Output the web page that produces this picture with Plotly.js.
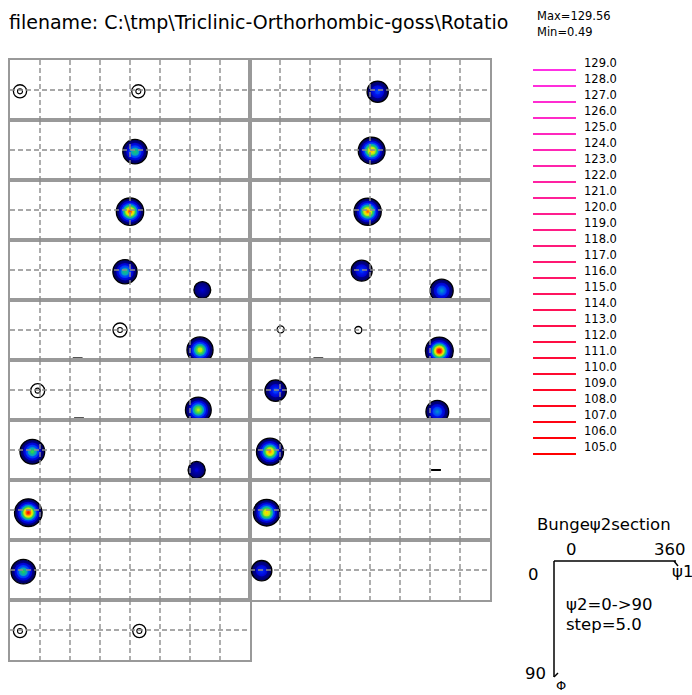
<!DOCTYPE html>
<html>
<head>
<meta charset="utf-8">
<script src="https://cdn.plot.ly/plotly-3.0.1.min.js"></script>
<style>
  html, body { margin: 0; padding: 0; background: #ffffff; }
  #odf { width: 692px; height: 695px; }
</style>
</head>
<body>
<div id="odf"></div>
<script>
// ODF in Bunge φ2 sections (φ2 = 0..90, step 5), φ1 across 0..360, Φ down 0..90

const sections = [0, 5, 10, 15, 20, 25, 30, 35, 40, 45, 50, 55, 60, 65, 70, 75, 80, 85, 90];

// texture peaks: section φ2, position (φ1, Φ) and peak intensity f(g)
const peakPhi2 = [0, 0, 5, 10, 15, 15, 20, 20, 20, 25, 25, 25, 30, 30, 35, 40, 45, 45,
                  50, 55, 60, 65, 65, 70, 70, 70, 70, 75, 75, 80, 80, 85, 90];
const peakPhi1 = [15, 192.5, 187.5, 180, 172.5, 288.5, 165, 285, 101.5, 41.5, 282.5, 103.5, 33.5, 280, 27.5, 20, 15, 194,
                  191.5, 182.5, 176.5, 167.5, 287.5, 46, 162.5, 102.5, 284, 38.5, 281, 30, 279, 25, 17.5];
const peakPHI  = [47, 47, 47.5, 47.5, 47.5, 75, 45, 75, 87.5, 46, 75, 87.5, 47.5, 75, 49, 47.5, 46.5, 46.5,
                  47.5, 46, 47.5, 46, 76, 44, 45, 87.5, 76.5, 46, 77.5, 47.5, 75, 49, 46];
const peakF    = [8, 8, 72, 118, 70, 26, 10, 95, 1.5, 10, 90, 1.5, 76, 27, 124, 74, 8, 8,
                  45, 108, 114, 44, 58, 4, 4, 1.5, 129.56, 46, 56, 112, 2, 104, 40];

const fMax = 129.56;
const fMin = 0.49;

// contour levels listed in the key
const contourLevels = [129, 128, 127, 126, 125, 124, 123, 122, 121, 120, 119, 118, 117,
                       116, 115, 114, 113, 112, 111, 110, 109, 108, 107, 106, 105];

// ---------------------------------------------------------------------------
const W = 692, H = 695;
const px = x => x / W;
const py = y => 1 - y / H;

const BORDER = '#999999';
const GRID = '#8c8c8c';
const FONT = 'DejaVu Sans, Liberation Sans, Arial, sans-serif';
const panelX0 = [10, 250], panelW = 240;
const panelY0 = 60, panelH = 60;
const gridStep = 45;

// jet-like shading bands, as fractions of the maximum
const bands = [
  { t: 0.08, c: [0, 0, 96] },
  { t: 0.20, c: [0, 0, 210] },
  { t: 0.32, c: [0, 48, 255] },
  { t: 0.45, c: [0, 160, 200] },
  { t: 0.56, c: [32, 200, 96] },
  { t: 0.68, c: [176, 238, 16] },
  { t: 0.78, c: [255, 224, 0] },
  { t: 0.86, c: [255, 128, 0] },
  { t: 0.94, c: [255, 16, 0] }
];
const sigmaPx = 6.2;

function rgb(c) { return 'rgb(' + c.map(Math.round).join(',') + ')'; }
function mix(a, b, u) { return rgb(a.map((v, i) => v + (b[i] - v) * u)); }

const axisBase = {
  showgrid: false, zeroline: false, showticklabels: false, ticks: '',
  showline: true, mirror: true, linecolor: BORDER, linewidth: 2,
  layer: 'above traces', fixedrange: true
};

const layout = {
  width: W, height: H,
  margin: { l: 0, r: 0, t: 0, b: 0, pad: 0 },
  paper_bgcolor: '#ffffff', plot_bgcolor: 'rgba(0,0,0,0)',
  showlegend: false,
  shapes: [], annotations: []
};
const traces = [];

sections.forEach((phi2, s) => {
  const col = s < 10 ? 0 : 1;
  const row = s < 10 ? s : s - 10;
  const n = s + 1;
  const sfx = n > 1 ? String(n) : '';
  const xr = 'x' + sfx, yr = 'y' + sfx;

  layout['xaxis' + sfx] = Object.assign({}, axisBase, {
    domain: [px(panelX0[col]), px(panelX0[col] + panelW)], range: [0, 360], anchor: yr
  });
  layout['yaxis' + sfx] = Object.assign({}, axisBase, {
    domain: [py(panelY0 + (row + 1) * panelH), py(panelY0 + row * panelH)], range: [90, 0], anchor: xr
  });

  // dashed grid, drawn over the intensity marks
  for (let a = gridStep; a < 360; a += gridStep) {
    layout.shapes.push({ type: 'line', xref: xr, yref: yr, x0: a, x1: a, y0: 0, y1: 90, layer: 'above',
      line: { color: GRID, width: 1.4, dash: '5px,3px' } });
  }
  for (let b = gridStep; b < 90; b += gridStep) {
    layout.shapes.push({ type: 'line', xref: xr, yref: yr, x0: 0, x1: 360, y0: b, y1: b, layer: 'above',
      line: { color: GRID, width: 1.4, dash: '5px,3px' } });
  }

  const m = { x: [], y: [], size: [], color: [], gtype: [], gcolor: [], lw: [], lc: [], sym: [] };
  const push = (x, y, size, color, gtype, gcolor, lw, sym) => {
    m.x.push(x); m.y.push(y); m.size.push(size); m.color.push(color);
    m.gtype.push(gtype); m.gcolor.push(gcolor); m.lw.push(lw); m.lc.push('#000000'); m.sym.push(sym);
  };

  peakF.forEach((f, i) => {
    if (peakPhi2[i] !== phi2) return;
    const x = peakPhi1[i], y = peakPHI[i];
    const q = f / fMax;
    if (f < 3) {
      push(x, y, 7, '#000000', 'none', '#000000', 2, 'line-ew');
    } else if (f < 6) {
      push(x, y, 7, '#000000', 'none', '#000000', 1.3, 'circle-open');
    } else if (q < bands[0].t) {
      push(x, y, 10 + 0.4 * f, '#000000', 'none', '#000000', 1.3, 'circle-open');
      push(x, y, 5, '#000000', 'none', '#000000', 1.1, 'circle-open');
    } else {
      bands.forEach((b, k) => {
        if (q <= b.t) return;
        const size = 2 * sigmaPx * Math.sqrt(2 * Math.log(q / b.t));
        const nxt = bands[k + 1];
        const centre = nxt ? mix(b.c, nxt.c, Math.min(1, (q - b.t) / (nxt.t - b.t))) : rgb(b.c);
        push(x, y, size, rgb(b.c), 'radial', centre, k === 0 ? 1.3 : 0, 'circle');
      });
    }
  });

  traces.push({
    type: 'scatter', mode: 'markers', xaxis: xr, yaxis: yr,
    x: m.x, y: m.y, hoverinfo: 'skip', cliponaxis: true,
    marker: {
      size: m.size, color: m.color, symbol: m.sym, opacity: 1,
      gradient: { type: m.gtype, color: m.gcolor },
      line: { color: m.lc, width: m.lw }
    }
  });
});

// ---- contour key -----------------------------------------------------------
layout.xaxis20 = { domain: [px(520), px(640)], range: [0, 1], visible: false, fixedrange: true, anchor: 'y20' };
layout.yaxis20 = { domain: [py(462), py(62)], range: [104.5, 129.5], visible: false, fixedrange: true, anchor: 'x20' };
const lo = contourLevels[contourLevels.length - 1], hi = contourLevels[0];
contourLevels.forEach(v => {
  const u = (v - lo) / (hi - lo);
  const col = rgb([255, 48 * u, 228 * u]);
  layout.shapes.push({ type: 'line', xref: 'paper', yref: 'y20', x0: px(533), x1: px(576), y0: v, y1: v,
    line: { color: col, width: 2 } });
  layout.annotations.push({ xref: 'paper', yref: 'y20', x: px(582), y: v + 0.42, xanchor: 'left', yanchor: 'middle',
    text: v.toFixed(1), showarrow: false, font: { family: FONT, size: 11.5, color: '#000' } });
});
layout.annotations.push({ xref: 'paper', yref: 'paper', x: px(535), y: py(16), xanchor: 'left', yanchor: 'middle',
  text: 'Max=' + fMax.toFixed(2), showarrow: false, font: { family: FONT, size: 11.5, color: '#000' } });
layout.annotations.push({ xref: 'paper', yref: 'paper', x: px(535), y: py(32), xanchor: 'left', yanchor: 'middle',
  text: 'Min=' + fMin.toFixed(2), showarrow: false, font: { family: FONT, size: 11.5, color: '#000' } });

// ---- file name header, clipped to its box ----------------------------------
layout.xaxis21 = { domain: [px(9), px(508)], range: [0, 1], visible: false, fixedrange: true, anchor: 'y21' };
layout.yaxis21 = { domain: [py(42), py(6)], range: [0, 1], visible: false, fixedrange: true, anchor: 'x21' };
traces.push({
  type: 'scatter', mode: 'text', xaxis: 'x21', yaxis: 'y21', x: [0], y: [0.5],
  text: ['filename: C:\\tmp\\Triclinic-Orthorhombic-goss\\Rotation'],
  textposition: 'middle right', cliponaxis: true, hoverinfo: 'skip',
  textfont: { family: FONT, size: 19, color: '#000' }
});

// ---- section orientation sketch -------------------------------------------
const K = '#000000';
const sketch = [
  [554, 561, 676, 561], [674, 561, 678, 566],
  [554, 561, 554, 677], [554, 677, 558, 673]
];
sketch.forEach(l => layout.shapes.push({ type: 'line', xref: 'paper', yref: 'paper',
  x0: px(l[0]), y0: py(l[1]), x1: px(l[2]), y1: py(l[3]), line: { color: K, width: 1.5 } }));
const note = (text, x, y, xanchor, size) => layout.annotations.push({ xref: 'paper', yref: 'paper', x: px(x), y: py(y),
  xanchor: xanchor, yanchor: 'middle', text: text, showarrow: false,
  font: { family: FONT, size: size || 16.5, color: K } });
note('Bungeψ2section', 535, 524, 'left');
note('0', 571, 549, 'center');
note('360', 670, 549, 'center');
note('ψ1', 682, 571, 'center');
note('0', 533, 574, 'center');
note('90', 535, 673, 'center');
note('Φ', 561, 685, 'center', 13);
note('ψ2=0->90', 564, 604, 'left');
note('step=5.0', 564, 624, 'left');

Plotly.newPlot('odf', traces, layout, { displayModeBar: false, staticPlot: true });
</script>
</body>
</html>
